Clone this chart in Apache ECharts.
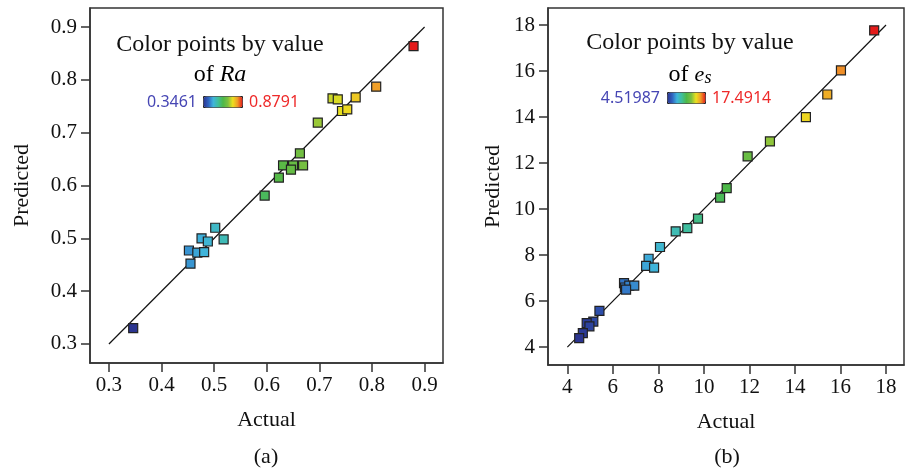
<!DOCTYPE html>
<html>
<head>
<meta charset="utf-8">
<script src="https://cdn.jsdelivr.net/npm/echarts@6/dist/echarts.min.js"></script>
<style>
html, body { margin: 0; padding: 0; background: #fff; }
#main { width: 906px; height: 468px; }
</style>
</head>
<body>
<div id="main"></div>
<script>
// (a) Ra：实际值 / 预测值
var raActual = [0.879, 0.808, 0.725, 0.735, 0.769, 0.743, 0.753, 0.697, 0.663, 0.631, 0.650, 0.669,
    0.646, 0.623, 0.596, 0.502, 0.518, 0.476, 0.488, 0.452, 0.468, 0.481, 0.455, 0.3461];
var raPred = [0.864, 0.787, 0.765, 0.763, 0.767, 0.741, 0.744, 0.719, 0.661, 0.638, 0.638, 0.638,
    0.630, 0.615, 0.581, 0.520, 0.498, 0.500, 0.494, 0.477, 0.473, 0.474, 0.452, 0.330];
var raLine = [0.3, 0.9];
var raTicks = [0.3, 0.4, 0.5, 0.6, 0.7, 0.8, 0.9];
var raRange = [0.3461, 0.8791];

// (b) es
var esActual = [17.48, 16.02, 15.42, 14.48, 12.90, 11.92, 11.00, 10.71, 9.74, 9.27, 8.76, 8.07, 7.57,
    7.46, 7.81, 6.49, 6.53, 6.72, 6.94, 6.58, 5.41, 5.14, 4.85, 4.97, 4.68, 4.52];
var esPred = [17.77, 16.03, 14.98, 14.00, 12.94, 12.29, 10.91, 10.50, 9.58, 9.17, 9.03, 8.35, 7.84,
    7.53, 7.45, 6.78, 6.59, 6.67, 6.67, 6.50, 5.57, 5.11, 5.04, 4.90, 4.61, 4.39];
var esLine = [4, 18];
var esTicks = [4, 6, 8, 10, 12, 14, 16, 18];
var esRange = [4.51987, 17.4914];

var colorMap = ['#2b3590', '#2f63c0', '#3fb4dc', '#3fbf9a', '#4db848', '#7cc040', '#ece020', '#f09a28', '#e41a1a'];

function pairs(a, b) {
    return a.map(function (v, i) { return [v, b[i]]; });
}

var serif = 'Liberation Serif';
var chart = echarts.init(document.getElementById('main'));

function xAxisOf(idx, min, max, ticks, fmt) {
    return {
        gridIndex: idx, type: 'value', min: min, max: max,
        name: 'Actual', nameLocation: 'middle', nameGap: 46,
        nameTextStyle: { fontFamily: serif, fontSize: 22, color: '#111' },
        axisLine: { show: true, lineStyle: { color: '#333', width: 1.5 } },
        axisTick: { show: true, length: 9, customValues: ticks, lineStyle: { color: '#333', width: 1.5 } },
        axisLabel: { customValues: ticks, formatter: fmt, fontFamily: serif, fontSize: 21, color: '#111', margin: 12 },
        splitLine: { show: false }
    };
}
function yAxisOf(idx, min, max, ticks, fmt, gap) {
    return {
        gridIndex: idx, type: 'value', min: min, max: max,
        name: 'Predicted', nameLocation: 'middle', nameGap: gap, nameRotate: 90, nameMoveOverlap: false,
        nameTextStyle: { fontFamily: serif, fontSize: 22, color: '#111' },
        axisLine: { show: true, lineStyle: { color: '#333', width: 1.5 } },
        axisTick: { show: true, length: 9, customValues: ticks, lineStyle: { color: '#333', width: 1.5 } },
        axisLabel: { customValues: ticks, formatter: fmt, fontFamily: serif, fontSize: 21, color: '#111', margin: 13 },
        splitLine: { show: false }
    };
}
var f1 = function (v) { return v.toFixed(1); };
var f0 = function (v) { return String(Math.round(v)); };

var option = {
    backgroundColor: '#fff',
    animation: false,
    grid: [
        { left: 90, top: 8, width: 353, height: 355, show: true, borderColor: '#333', borderWidth: 1.5 },
        { left: 548, top: 8, width: 356, height: 357, show: true, borderColor: '#333', borderWidth: 1.5 }
    ],
    xAxis: [
        xAxisOf(0, 0.264, 0.935, raTicks, f1),
        xAxisOf(1, 3.15, 18.79, esTicks, f0)
    ],
    yAxis: [
        yAxisOf(0, 0.264, 0.936, raTicks, f1, 57),
        yAxisOf(1, 3.22, 18.74, esTicks, f0, 44)
    ],
    visualMap: [
        {
            type: 'continuous', seriesIndex: 1, dimension: 0,
            min: raRange[0], max: raRange[1], orient: 'horizontal',
            left: 203, top: 96, itemWidth: 11, itemHeight: 39, padding: 0,
            calculable: false, hoverLink: false, text: null, showLabel: false,
            borderColor: '#222', borderWidth: 1,
            inRange: { color: colorMap }
        },
        {
            type: 'continuous', seriesIndex: 3, dimension: 0,
            min: esRange[0], max: esRange[1], orient: 'horizontal',
            left: 667, top: 92, itemWidth: 11, itemHeight: 38, padding: 0,
            calculable: false, hoverLink: false, text: null, showLabel: false,
            borderColor: '#222', borderWidth: 1,
            inRange: { color: colorMap }
        }
    ],
    graphic: [
        { type: 'text', x: 220, y: 45, style: { text: 'Color points by value', font: '24px "Liberation Serif"', fill: '#111', align: 'center', verticalAlign: 'middle' } },
        { type: 'text', x: 220, y: 75, style: { text: '{n|of }{i|Ra}', align: 'center', verticalAlign: 'middle',
            rich: { n: { fontFamily: serif, fontSize: 24, color: '#111' }, i: { fontFamily: serif, fontSize: 24, fontStyle: 'italic', color: '#111' } } } },
        { type: 'text', x: 197, y: 102, style: { text: '0.3461', font: '16px "Noto Sans"', fill: '#4646b4', align: 'right', verticalAlign: 'middle' } },
        { type: 'text', x: 249, y: 102, style: { text: '0.8791', font: '16px "Noto Sans"', fill: '#ee2a2a', align: 'left', verticalAlign: 'middle' } },

        { type: 'text', x: 690, y: 43, style: { text: 'Color points by value', font: '24px "Liberation Serif"', fill: '#111', align: 'center', verticalAlign: 'middle' } },
        { type: 'text', x: 690, y: 75, style: { text: '{n|of }{i|e}{s|s}', align: 'center', verticalAlign: 'middle',
            rich: { n: { fontFamily: serif, fontSize: 24, color: '#111' }, i: { fontFamily: serif, fontSize: 22, fontStyle: 'italic', color: '#111' },
                s: { fontFamily: serif, fontSize: 18, fontStyle: 'italic', color: '#111', verticalAlign: 'bottom' } } } },
        { type: 'text', x: 660, y: 98, style: { text: '4.51987', font: '16px "Noto Sans"', fill: '#4646b4', align: 'right', verticalAlign: 'middle' } },
        { type: 'text', x: 712, y: 98, style: { text: '17.4914', font: '16px "Noto Sans"', fill: '#ee2a2a', align: 'left', verticalAlign: 'middle' } },

        { type: 'text', x: 266, y: 457, style: { text: '(a)', font: '22px "Liberation Serif"', fill: '#111', align: 'center', verticalAlign: 'middle' } },
        { type: 'text', x: 727, y: 457, style: { text: '(b)', font: '22px "Liberation Serif"', fill: '#111', align: 'center', verticalAlign: 'middle' } }
    ],
    series: [
        { type: 'line', xAxisIndex: 0, yAxisIndex: 0, data: pairs(raLine, raLine), symbol: 'none', lineStyle: { color: '#111', width: 1.2 }, z: 1 },
        { type: 'scatter', xAxisIndex: 0, yAxisIndex: 0, data: pairs(raActual, raPred), symbol: 'rect', symbolSize: 9,
            itemStyle: { borderColor: '#222', borderWidth: 1.2, opacity: 1 }, z: 2 },
        { type: 'line', xAxisIndex: 1, yAxisIndex: 1, data: pairs(esLine, esLine), symbol: 'none', lineStyle: { color: '#111', width: 1.2 }, z: 1 },
        { type: 'scatter', xAxisIndex: 1, yAxisIndex: 1, data: pairs(esActual, esPred), symbol: 'rect', symbolSize: 9,
            itemStyle: { borderColor: '#222', borderWidth: 1.2, opacity: 1 }, z: 2 }
    ]
};

chart.setOption(option);
</script>
</body>
</html>
